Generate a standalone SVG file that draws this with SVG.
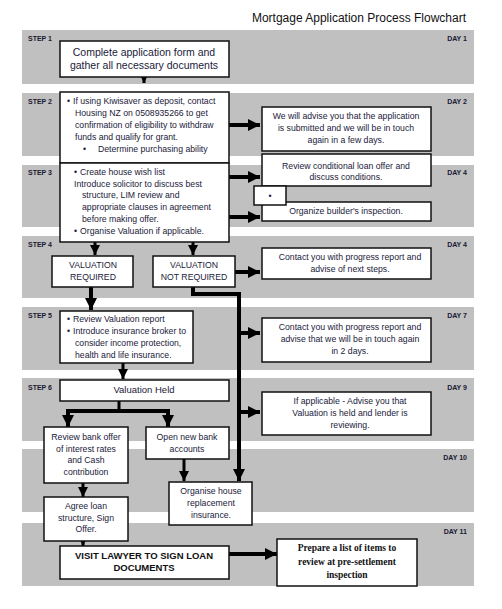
<svg xmlns="http://www.w3.org/2000/svg" width="502" height="609" viewBox="0 0 502 609">
<style>
.band{fill:#c0c0c0}
.lbl{font-family:"Liberation Sans",Arial,sans-serif;font-size:7px;font-weight:bold;fill:#1a1a33}
.box{fill:#fff;stroke:#111;stroke-width:1.5}
.t{font-family:"Liberation Sans",Arial,sans-serif;font-size:8.7px;fill:#1a1a3a}
.c{text-anchor:middle}
.big{font-size:10.5px}
.vh{font-size:9.5px}
.b{font-weight:bold;font-size:9.5px;fill:#111}
.serif{font-family:"Liberation Serif","Times New Roman",serif;font-weight:bold;font-size:9.5px;fill:#111}
.thick{fill:none;stroke:#000;stroke-width:4}
.thin{fill:none;stroke:#000;stroke-width:3}
</style>
<defs>
<marker id="ah" viewBox="0 0 12 12" refX="12" refY="6" markerWidth="12" markerHeight="12" markerUnits="userSpaceOnUse" orient="auto"><path d="M0,0 L12,6 L0,12 z" fill="#000"/></marker>
<marker id="as" viewBox="0 0 10 10" refX="10" refY="5" markerWidth="10" markerHeight="10" markerUnits="userSpaceOnUse" orient="auto"><path d="M0,0 L10,5 L0,10 z" fill="#000"/></marker>
<marker id="ax" viewBox="0 0 7 7" refX="7" refY="3.5" markerWidth="7" markerHeight="7" markerUnits="userSpaceOnUse" orient="auto"><path d="M0,0 L7,3.5 L0,7 z" fill="#000"/></marker>
</defs>
<rect width="502" height="609" fill="#fff"/>
<text x="466" y="22" text-anchor="end" font-family="Liberation Sans,Arial,sans-serif" font-size="12" fill="#111">Mortgage Application Process Flowchart</text>
<g id="bands">
<rect class="band" x="22" y="30" width="452" height="54"/>
<rect class="band" x="22" y="93" width="452" height="63"/>
<rect class="band" x="22" y="165" width="452" height="62"/>
<rect class="band" x="22" y="236" width="452" height="62"/>
<rect class="band" x="22" y="307" width="452" height="63"/>
<rect class="band" x="22" y="378" width="452" height="63"/>
<rect class="band" x="22" y="449" width="452" height="63"/>
<rect class="band" x="22" y="523" width="452" height="63"/>
<text class="lbl" x="28" y="41">STEP 1</text>
<text class="lbl" x="28" y="104">STEP 2</text>
<text class="lbl" x="28" y="175">STEP 3</text>
<text class="lbl" x="28" y="247">STEP 4</text>
<text class="lbl" x="28" y="318">STEP 5</text>
<text class="lbl" x="28" y="390">STEP 6</text>
<g text-anchor="end">
<text class="lbl" x="467" y="41">DAY 1</text>
<text class="lbl" x="467" y="104">DAY 2</text>
<text class="lbl" x="467" y="175">DAY 4</text>
<text class="lbl" x="467" y="247">DAY 4</text>
<text class="lbl" x="467" y="318">DAY 7</text>
<text class="lbl" x="467" y="390">DAY 9</text>
<text class="lbl" x="467" y="460">DAY 10</text>
<text class="lbl" x="467" y="534">DAY 11</text>
</g>
</g>
<g id="connectors">
<path class="thin" d="M144 77 V83" marker-end="url(#ax)"/>
<path class="thick" d="M229 125 H260" marker-end="url(#ah)"/>
<path class="thick" d="M229 177 H260" marker-end="url(#ah)"/>
<path class="thick" d="M229 217 H260" marker-end="url(#ah)"/>
<path class="thin" d="M95 242 V255" marker-end="url(#as)"/>
<path class="thin" d="M193 242 V255" marker-end="url(#as)"/>
<path class="thick" d="M235 272 H260" marker-end="url(#ah)"/>
<path class="thick" d="M91 287 V310" marker-end="url(#ah)"/>
<path class="thick" d="M193 287 V294 H239 V481" marker-end="url(#ah)"/>
<path class="thick" d="M239 333 H260" marker-end="url(#ah)"/>
<path class="thick" d="M239 412 H260" marker-end="url(#ah)"/>
<path class="thin" d="M123 363 V379" marker-end="url(#as)"/>
<path class="thin" d="M119 401 V411"/>
<path class="thick" d="M68 427 V411 H168 V427"/>
<path class="thick" d="M68 411 V427" marker-end="url(#ah)"/>
<path class="thick" d="M168 411 V427" marker-end="url(#ah)"/>
<path class="thin" d="M184 459 V481" marker-end="url(#as)"/>
<path class="thin" d="M83 483 V497" marker-end="url(#as)"/>
<path class="thin" d="M83 541 V546" marker-end="url(#ax)"/>
<path class="thick" d="M229 554 H277" marker-end="url(#ah)"/>
</g>
<g id="step1">
<rect class="box" x="60" y="41" width="169" height="36"/>
<text class="t c big" x="144" y="56">Complete application form and</text>
<text class="t c big" x="144" y="69">gather all necessary documents</text>
</g>
<g id="step2">
<rect class="box" x="60" y="92" width="169" height="71"/>
<text class="t" x="67" y="104">•</text><text class="t" x="73" y="104">If using Kiwisaver as deposit, contact</text>
<text class="t" x="75" y="116">Housing NZ on 0508935266 to get</text>
<text class="t" x="75" y="128">confirmation of eligibility to withdraw</text>
<text class="t" x="75" y="140">funds and qualify for grant.</text>
<text class="t" x="83" y="152">•</text><text class="t" x="98" y="152">Determine purchasing ability</text>
</g>
<g id="advise-submitted">
<rect class="box" x="262" y="107" width="169" height="44"/>
<text class="t c" x="346" y="119">We will advise you that the application</text>
<text class="t c" x="346" y="131">is submitted and we will be in touch</text>
<text class="t c" x="346" y="143">again in a few days.</text>
</g>
<g id="step3">
<rect class="box" x="60" y="163" width="169" height="79"/>
<text class="t" x="74" y="175">•</text><text class="t" x="80" y="175">Create house wish list</text>
<text class="t" x="74" y="187">Introduce solicitor to discuss best</text>
<text class="t" x="82" y="198">structure, LIM review and</text>
<text class="t" x="82" y="210">appropriate clauses in agreement</text>
<text class="t" x="82" y="222">before making offer.</text>
<text class="t" x="74" y="234">•</text><text class="t" x="80" y="234">Organise Valuation if applicable.</text>
</g>
<g id="review-conditional">
<rect class="box" x="262" y="154" width="169" height="32"/>
<text class="t c" x="346" y="169">Review conditional loan offer and</text>
<text class="t c" x="346" y="180">discuss conditions.</text>
</g>
<g id="builders-inspection">
<rect class="box" x="262" y="202" width="169" height="19"/>
<text class="t c" x="346" y="214">Organize builder's inspection.</text>
</g>
<g id="bullet-box">
<rect class="box" x="254" y="186" width="32" height="19"/>
<text class="t c" x="270" y="199" font-size="7">•</text>
</g>
<g id="valuation-required">
<rect class="box" x="52" y="256" width="81" height="31"/>
<text class="t c" x="93" y="268">VALUATION</text>
<text class="t c" x="93" y="280">REQUIRED</text>
</g>
<g id="valuation-not-required">
<rect class="box" x="153" y="256" width="82" height="31"/>
<text class="t c" x="194" y="268">VALUATION</text>
<text class="t c" x="194" y="280">NOT REQUIRED</text>
</g>
<g id="contact-next-steps">
<rect class="box" x="262" y="248" width="169" height="31"/>
<text class="t c" x="350" y="260">Contact you with progress report and</text>
<text class="t c" x="350" y="272">advise of next steps.</text>
</g>
<g id="step5">
<rect class="box" x="60" y="311" width="133" height="52"/>
<text class="t" x="67" y="322">•</text><text class="t" x="73" y="322">Review Valuation report</text>
<text class="t" x="67" y="334">•</text><text class="t" x="73" y="334">Introduce insurance broker to</text>
<text class="t" x="75" y="346">consider income protection,</text>
<text class="t" x="75" y="358">health and life insurance.</text>
</g>
<g id="contact-2-days">
<rect class="box" x="262" y="318" width="169" height="44"/>
<text class="t c" x="350" y="330">Contact you with progress report and</text>
<text class="t c" x="350" y="342">advise that we will be in touch again</text>
<text class="t c" x="350" y="354">in 2 days.</text>
</g>
<g id="valuation-held">
<rect class="box" x="60" y="380" width="169" height="21"/>
<text class="t c vh" x="144" y="393">Valuation Held</text>
</g>
<g id="lender-reviewing">
<rect class="box" x="262" y="392" width="169" height="43"/>
<text class="t c" x="350" y="404">If applicable - Advise you that</text>
<text class="t c" x="350" y="416">Valuation is held and lender is</text>
<text class="t c" x="350" y="428">reviewing.</text>
</g>
<g id="review-bank-offer">
<rect class="box" x="44" y="427" width="84" height="56"/>
<text class="t c" x="86" y="440">Review bank offer</text>
<text class="t c" x="86" y="452">of interest rates</text>
<text class="t c" x="86" y="463">and Cash</text>
<text class="t c" x="86" y="475">contribution</text>
</g>
<g id="open-bank-accounts">
<rect class="box" x="146" y="427" width="83" height="32"/>
<text class="t c" x="187" y="440">Open new bank</text>
<text class="t c" x="187" y="452">accounts</text>
</g>
<g id="house-insurance">
<rect class="box" x="169" y="482" width="83" height="43"/>
<text class="t c" x="211" y="494">Organise house</text>
<text class="t c" x="211" y="506">replacement</text>
<text class="t c" x="211" y="518">insurance.</text>
</g>
<g id="agree-loan">
<rect class="box" x="44" y="497" width="84" height="44"/>
<text class="t c" x="86" y="509">Agree loan</text>
<text class="t c" x="86" y="521">structure, Sign</text>
<text class="t c" x="86" y="532">Offer.</text>
</g>
<g id="visit-lawyer">
<rect class="box" x="60" y="546" width="169" height="33"/>
<text class="t c b" x="144" y="559">VISIT LAWYER TO SIGN LOAN</text>
<text class="t c b" x="144" y="571">DOCUMENTS</text>
</g>
<g id="pre-settlement">
<rect class="box" x="277" y="539" width="140" height="47"/>
<text class="serif" text-anchor="middle" x="347" y="551">Prepare a list of items to</text>
<text class="serif" text-anchor="middle" x="347" y="565">review at pre-settlement</text>
<text class="serif" text-anchor="middle" x="347" y="578">inspection</text>
</g>
</svg>
